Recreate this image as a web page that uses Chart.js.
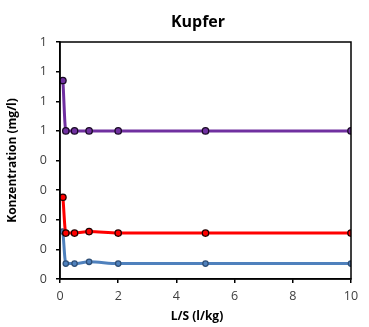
<!DOCTYPE html>
<html>
<head>
<meta charset="utf-8">
<script src="https://cdn.jsdelivr.net/npm/chart.js@4"></script>
<style>
  html, body { margin: 0; padding: 0; background: #fff; }
  #wrap { width: 369px; height: 327px; position: relative; }
</style>
</head>
<body>
<div id="wrap"><canvas id="chart"></canvas></div>
<script>
// --- Data ---
const lsValues = [0.1, 0.2, 0.5, 1, 2, 5, 10];
const purpleValues = [0.67, 0.5, 0.5, 0.5, 0.5, 0.5, 0.5];
const redValues = [0.276, 0.155, 0.155, 0.16, 0.155, 0.155, 0.155];
const blueValues = [0.16, 0.052, 0.052, 0.058, 0.052, 0.052, 0.052];
const xTicks = [0, 2, 4, 6, 8, 10];
const yMin = 0, yMax = 0.8, yStep = 0.1;

const chartTitle = 'Kupfer';
const xTitle = 'L/S (l/kg)';
const yTitle = 'Konzentration (mg/l)';

const FONT = "'Open Sans', 'Liberation Sans', sans-serif";

function toPoints(ys) {
    return lsValues.map((x, i) => ({ x: x, y: ys[i] }));
}

function series(label, ys, color, border, radius) {
    return {
        label: label,
        data: toPoints(ys),
        borderColor: color,
        backgroundColor: color,
        borderWidth: 3,
        pointRadius: radius,
        pointBorderColor: border,
        pointBackgroundColor: color,
        pointBorderWidth: 1.3,
        cubicInterpolationMode: 'monotone'
    };
}

// --- Box round the plot area plus chart / x titles ---
const framePlugin = {
    id: 'frame',
    afterDraw(chart) {
        const { ctx, chartArea: a } = chart;
        ctx.save();
        ctx.strokeStyle = '#000';
        ctx.lineWidth = 1.5;
        ctx.strokeRect(a.left, a.top, a.right - a.left, a.bottom - a.top);
        ctx.fillStyle = '#000';
        ctx.textAlign = 'center';
        ctx.textBaseline = 'middle';
        ctx.font = 'bold 16px ' + FONT;
        ctx.fillText(chartTitle, 198, 22);
        ctx.font = 'bold 12px ' + FONT;
        ctx.fillText(xTitle, 197, 317);
        ctx.restore();
    }
};

new Chart(document.getElementById('chart'), {
    type: 'line',
    data: {
        datasets: [
            series('Serie 1', purpleValues, '#7030A0', '#1a0a26', 3.2),
            series('Serie 2', redValues, '#FF0000', '#200000', 3.2),
            series('Serie 3', blueValues, '#4F81BD', '#2f4f77', 2.7)
        ]
    },
    options: {
        responsive: true,
        maintainAspectRatio: false,
        animation: false,
        layout: { padding: { top: 42, right: 18, left: 0, bottom: 0 } },
        plugins: {
            legend: { display: false },
            title: { display: false },
            tooltip: { enabled: false }
        },
        scales: {
            x: {
                type: 'linear',
                min: 0,
                max: 10,
                afterBuildTicks: s => { s.ticks = xTicks.map(v => ({ value: v })); },
                afterFit: s => { s.height = 48; },
                grid: { drawOnChartArea: false, color: '#000', tickLength: 4, lineWidth: 1.5 },
                border: { color: '#000', width: 1.5 },
                ticks: { color: '#404040', font: { family: FONT, size: 12.5 }, padding: 6, maxRotation: 0 }
            },
            y: {
                min: yMin,
                max: yMax,
                afterFit: s => { s.width = 60; },
                grid: { drawOnChartArea: false, color: '#000', tickLength: 4, lineWidth: 1.5 },
                border: { color: '#000', width: 1.5 },
                ticks: {
                    stepSize: yStep,
                    color: '#404040',
                    font: { family: FONT, size: 12.5 },
                    padding: 9,
                    callback: v => String(Math.round(v + 1e-9))
                },
                title: {
                    display: true,
                    text: yTitle,
                    color: '#000',
                    font: { family: FONT, size: 12, weight: 'bold' },
                    padding: { top: 5, bottom: 0 }
                }
            }
        }
    },
    plugins: [framePlugin]
});
</script>
</body>
</html>
